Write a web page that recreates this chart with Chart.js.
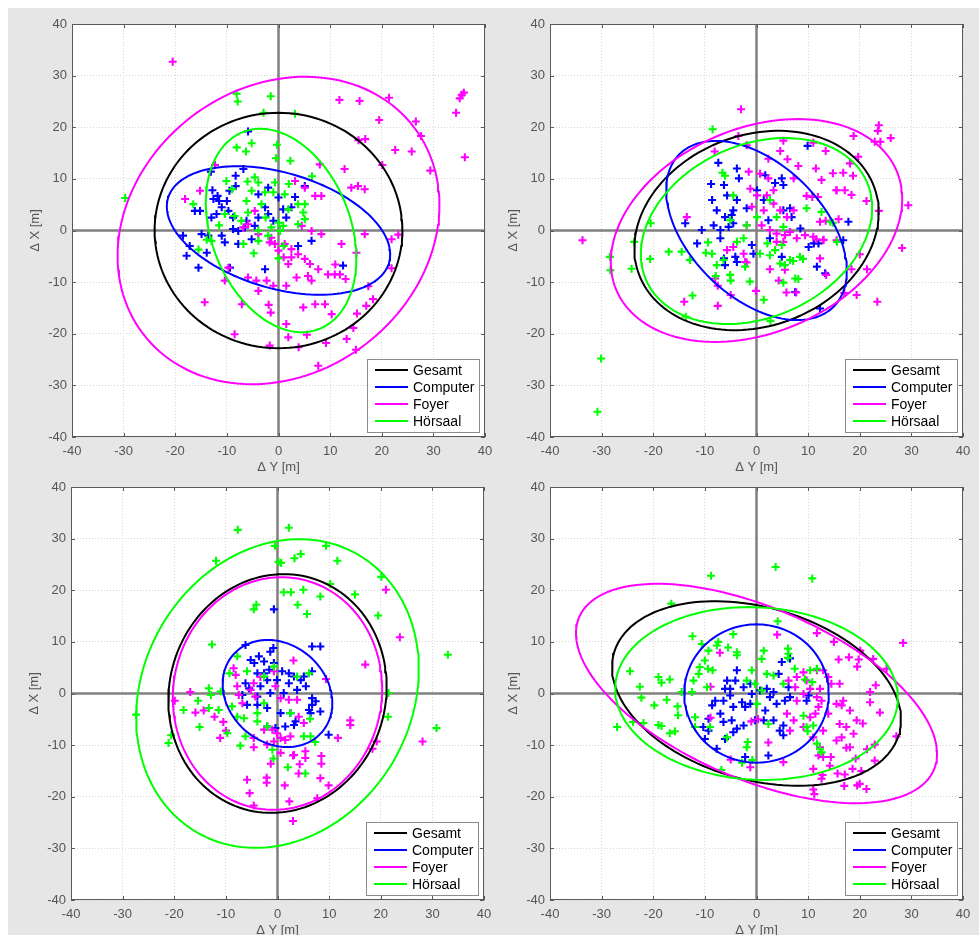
<!DOCTYPE html>
<html lang="de">
<head>
  <meta charset="UTF-8">
  <title>Positionsabweichungen</title>
  <script src="https://cdn.jsdelivr.net/npm/chart.js"></script>
  <style>
    body {
      margin: 0;
      background: #fff;
      font-family: 'Liberation Sans', Arial, sans-serif;
    }
    .figure {
      position: absolute;
      left: 8px;
      top: 8px;
      width: 971px;
      height: 927px;
      background: #e6e6e6;
    }
    canvas {
      position: absolute;
    }
  </style>
</head>
<body>

  <div class="figure"></div>
  <canvas id="tl" width="492" height="473" style="left:8px;top:10px"></canvas>
  <canvas id="tr" width="492" height="473" style="left:486px;top:10px"></canvas>
  <canvas id="bl" width="492" height="473" style="left:7px;top:473px"></canvas>
  <canvas id="br" width="492" height="473" style="left:486px;top:473px"></canvas>

  <script>
    const groups = ['Gesamt', 'Computer', 'Foyer', 'Hörsaal'];
    const axisMin = -40, axisMax = 40, axisStep = 10;
    const xTitle = 'Δ Y [m]';
    const yTitle = 'Δ X [m]';

    // ellipses: [centre ΔY, centre ΔX, semi axis a, semi axis b, angle deg] for Gesamt, Computer, Foyer, Hörsaal
    const tlEllipses = [[0, 0, 24, 22.8, 0], [0, 0, 22.3, 11.2, -16.3], [0, 0, 33, 27.75, 37.3], [0.5, 0, 20.45, 13.5, -69]];
    const trEllipses = [[0, 0, 24.3, 18.5, 20.5], [0, 0, 21, 12.9, -44.5], [0, 0, 29.5, 19.8, 23.1], [0, -0.1, 23.4, 16.7, 24.3]];
    const blEllipses = [[0, 0, 23.3, 20.95, 73.7], [0, 0, 11.4, 9.5, -41.2], [0, 0, 22.6, 20.2, 80], [0, 0, 31.1, 26, 59.85]];
    const brEllipses = [[0, 0, 28.7, 16.7, -15.85], [0, 0, 14, 13.4, 0], [0, 0, 37.4, 16.6, -23.3], [0, 0, 27.4, 16.7, -3]];

    // measured points [ΔY, ΔX]
    const tlComputer = [[-5.9,19.2],[-13.1,11.4],[-8.3,10.6],[-6.8,11.9],[-8.3,8.6],[-9.5,7.7],[-12.8,7.8],[-11.8,6.7],[-11.5,5.7],[-12.6,6.1],[-11.0,4.5],[-15.2,3.8],[-16.2,3.8],[-9.7,3.8],[-8.8,2.5],[-13.0,2.5],[-6.2,1.9],[-3.9,7.0],[-2.0,8.3],[0.0,6.4],[3.2,6.5],[5.1,8.6],[0.9,4.1],[1.5,2.5],[-2.0,3.2],[-3.9,2.5],[-4.6,0.9],[-6.5,0.6],[-8.8,0.3],[-11.0,-1.0],[-13.6,-1.0],[-14.9,-0.7],[-18.5,-1.0],[-17.2,-3.0],[-17.8,-4.9],[-15.5,-7.2],[-13.9,-4.3],[-10.4,-2.3],[-7.8,-2.6],[-5.2,-1.7],[-9.4,-7.2],[-2.6,-7.5],[3.8,-3.0],[6.4,-2.0],[12.5,-6.8],[-7.8,-0.1],[-12.0,3.2],[-10.0,5.7],[-1.0,1.9],[2.5,4.5],[-2.6,4.5]];
    const tlFoyer = [[-20.5,32.7],[11.8,25.3],[15.7,25.1],[21.4,25.7],[35.5,26.3],[35.9,26.7],[35.1,25.6],[34.4,22.8],[36.1,14.2],[19.5,21.4],[26.6,21.1],[27.6,18.3],[15.5,17.5],[16.8,17.7],[22.6,15.6],[25.8,15.3],[29.4,11.6],[20.1,12.7],[21.9,-1.7],[23.2,-0.8],[21.9,-7.3],[-1.7,-22.3],[3.9,-22.6],[5.5,-20.2],[9.2,-21.8],[7.7,-26.2],[13.2,-21.0],[15.0,-23.1],[15.2,-16.1],[17.0,-14.6],[14.5,-18.9],[18.3,-13.3],[17.4,-10.8],[11.0,-6.6],[-1.9,-14.4],[-1.5,-15.9],[13.0,-9.4],
      [-12.3,12.7],[-15.2,7.7],[-18.1,6.1],[-10.4,-9.7],[-14.3,-13.9],[-7.1,-14.3],[-3.9,-11.7],[-2.3,-9.7],[-4.3,-9.7],[-1.0,-10.7],[1.5,-10.7],[3.5,-9.1],[5.7,-8.8],[6.4,-9.7],[7.7,-7.5],[9.6,-8.5],[10.9,-8.5],[11.9,-8.5],[-5.9,1.2],[-4.6,3.8],[-1.4,-1.4],[-0.7,-2.6],[0.0,-3.9],[-1.7,-2.3],[1.2,-2.6],[2.5,-5.2],[3.8,-4.6],[5.1,-5.5],[6.1,-6.5],[1.9,-6.5],[1.0,-5.2],[2.5,-3.6],[4.5,0.9],[6.4,-0.1],[8.3,-0.7],[8.3,6.7],[7.1,6.7],[8.0,12.8],[12.8,11.9],[14.1,8.3],[15.4,8.6],[16.7,8.0],[12.2,-2.6],[15.1,-4.3],[16.7,-0.7],[10.3,-16.2],[9.0,-14.3],[7.1,-14.3],[4.8,-14.9],[1.5,-18.1],[-5.9,-9.1],[-9.7,-7.2],[-8.5,-20.1],[1.9,-20.7],[-3.9,-0.7],[-6.8,0.6],[3.2,9.6],[5.1,8.3]];
    const tlHoersaal = [[-29.7,6.3],[-8.1,26.5],[-7.9,25.0],[-1.5,26.0],[-2.9,22.8],[3.2,22.6],[-8.1,16.1],[-6.3,15.3],[-5.2,16.9],[-0.3,16.6],[-0.5,14.0],[2.3,13.5],[6.5,10.5],[-16.5,5.1],[-15.5,-3.7],[-13.9,-1.8],[-4.8,-4.4],[0.0,-5.4],[-10.1,9.6],[-4.6,10.3],[-3.9,9.3],[-5.2,7.7],[-2.6,7.4],[-1.0,7.4],[-0.7,9.3],[1.2,7.0],[3.8,5.1],[4.8,3.5],[5.1,2.2],[-1.4,0.6],[0.0,1.5],[-2.0,-1.0],[-6.8,-2.6],[-3.9,-2.0],[-6.2,5.7],[-3.3,5.1],[1.9,4.1],[0.9,0.9],[-8.5,2.8],[-7.2,1.9],[5.1,5.1],[-10.4,3.2],[-13.0,-2.0],[3.8,1.2],[0.3,-0.1],[-3.9,0.0],[-5.9,3.5],[-9.0,8.0],[-6.0,9.5],[2.0,9.0],[-11.5,1.0],[1.0,-3.0],[-2.5,2.5]];

    const trComputer = [[9.9,16.4],[-7.4,13.1],[-3.8,12.0],[-3.4,10.1],[-8.8,9.0],[-6.3,8.8],[1.7,10.7],[4.9,10.1],[3.6,9.2],[5.2,8.8],[-8.6,5.9],[-5.7,6.8],[-3.8,5.9],[-7.7,3.9],[-6.1,2.6],[-4.8,3.0],[-4.5,3.9],[-13.8,1.4],[-10.6,0.1],[-8.3,1.0],[-7.0,0.1],[-7.0,-1.5],[-5.4,0.7],[-4.5,1.4],[-11.5,-2.5],[-6.3,-5.4],[-6.1,-6.7],[-4.1,-5.1],[-3.8,-6.1],[-0.6,-4.5],[-0.9,-2.8],[2.3,2.0],[2.6,-1.5],[4.9,-5.1],[5.2,3.9],[6.5,4.3],[6.8,2.6],[8.5,0.4],[10.1,-3.2],[11.1,-2.5],[12.0,-2.5],[11.7,-7.0],[13.3,-8.3],[7.5,-11.9],[16.8,-1.9],[17.8,1.7],[12.3,-15.1],[1.4,5.9],[0.1,7.8],[-1.9,4.3]];
    const trFoyer = [[-33.7,-1.9],[-3.0,23.5],[23.7,20.4],[23.5,19.3],[26.0,17.9],[22.9,17.2],[24.0,17.2],[18.8,18.3],[19.7,14.3],[18.1,13.0],[14.8,11.1],[16.8,11.2],[18.7,10.6],[15.5,7.8],[17.1,7.8],[18.4,6.9],[21.3,5.7],[23.7,3.8],[29.4,4.9],[28.2,-3.4],[20.0,-4.6],[21.4,-7.5],[18.4,-7.5],[19.4,-12.5],[23.4,-13.8],[17.0,-12.1],[13.4,15.4],[11.0,17.0],[5.2,17.4],[4.6,15.4],[6.0,13.8],[2.3,13.9],[8.1,12.5],[11.5,12.0],[12.6,9.8],[9.7,6.7],[10.8,6.5],[11.9,6.5],[13.4,1.9],[15.9,2.2],[11.6,-1.7],[13.0,-1.8],[12.3,-5.4],[13.5,-8.6],[4.3,-9.7],[5.8,-12.0],[7.7,-12.0],[-0.1,-11.7],[-5.0,-12.5],[-7.5,-14.6],[-14.0,-13.8],[-7.5,-10.7],[-1.9,-6.2],[2.6,-7.5],[5.5,-7.6],[-8.1,15.3],[-13.5,2.6],[-3.5,18.3],[-1.9,16.5],
      [-1.5,11.4],[0.7,11.0],[2.3,10.1],[-1.2,8.1],[0.1,6.8],[2.0,6.8],[3.3,7.8],[-0.9,4.6],[1.4,3.9],[3.3,5.2],[4.6,3.9],[7.2,3.9],[5.9,2.6],[-1.9,1.0],[1.0,1.0],[2.6,0.1],[3.9,-0.6],[5.5,-0.9],[6.5,-0.3],[7.8,-1.5],[9.4,-0.9],[11.0,-1.2],[3.9,-2.2],[5.2,-2.2],[-2.5,-4.5],[-2.2,-6.1],[-4.5,-3.2],[-5.7,-3.8],[-8.0,-9.3],[12.3,1.7],[12.9,-1.9],[15.5,-1.9],[15.5,7.8],[7.2,10.1]];
    const trHoersaal = [[-30.1,-24.8],[-30.8,-35.1],[-28.4,-5.1],[-28.3,-7.7],[-24.2,-7.4],[-23.7,-2.2],[-8.5,19.6],[-20.5,1.4],[-20.6,-5.5],[-17.0,-4.1],[-14.5,-4.1],[-12.9,-5.7],[-12.4,-12.6],[-13.7,-16.7],[-1.3,-9.9],[1.4,-13.4],[2.7,-17.5],[-5.0,-9.7],[-7.9,-8.8],[-9.8,-4.3],[-9.4,-2.3],[5.2,-10.1],[7.1,-5.9],[8.1,-9.4],[9.0,-5.5],[12.6,3.6],[14.8,1.5],[15.6,-2.2],[-6.6,11.2],[-6.1,10.6],[-7.7,-6.7],[-5.1,-8.6],[-3.8,-2.2],[-2.5,-1.5],[-1.9,1.0],[0.7,-4.5],[2.6,-4.8],[3.6,-3.8],[4.9,-2.8],[5.5,-6.7],[7.5,-9.3],[8.4,-5.1],[6.5,-5.7],[4.6,-6.4],[9.7,4.3],[14.3,1.7],[-2.2,-7.0],[-6.4,-5.7],[-8.6,-4.5],[-4.5,6.8],[2.6,5.9],[3.9,2.6],[5.2,0.7],[-5.1,2.0],[0.1,2.6],[2.1,-2.5]];

    const blComputer = [[-0.7,16.3],[-6.2,9.4],[-1.4,8.1],[-0.8,8.8],[6.7,9.1],[8.3,9.1],[-5.2,6.5],[-4.5,5.9],[-3.6,7.2],[-2.6,6.2],[-1.6,4.6],[-0.7,5.9],[0.9,4.3],[2.2,3.9],[-2.6,3.9],[-3.9,3.9],[-6.2,2.0],[-5.5,1.0],[-3.3,1.4],[-2.0,2.6],[-0.1,2.6],[2.2,2.0],[3.2,3.3],[4.5,2.6],[5.1,3.3],[6.7,4.3],[5.5,1.4],[3.8,0.7],[1.2,0.1],[-1.4,0.1],[-3.9,-0.6],[-6.8,-0.3],[-5.9,-2.2],[-3.9,-2.2],[-2.0,-2.8],[0.6,-3.8],[2.5,-3.8],[3.5,-5.4],[6.1,-3.2],[6.7,-0.9],[7.4,-1.5],[6.7,-2.2],[6.4,-3.8],[8.3,-3.5],[-2.0,-6.4],[-0.4,-6.7],[9.9,-8.0],[1.5,-6.4],[3.2,-6.1]];
    const blFoyer = [[21.0,20.1],[23.7,10.9],[17.0,5.6],[9.4,2.8],[28.1,-9.3],[19.2,-9.3],[14.1,-5.2],[14.1,-6.1],[11.7,-8.6],[18.4,-10.7],[3.0,-24.7],[-4.6,-21.7],[-5.4,-19.3],[-5.9,-16.7],[-2.1,-16.3],[-2.1,-17.3],[1.4,-17.8],[2.3,-20.9],[7.7,-20.3],[8.3,-16.4],[9.9,-17.8],[8.5,-12.1],[8.5,-13.6],[5.4,-12.5],[5.4,-11.2],[4.1,-15.5],[4.3,-13.7],[3.0,-12.0],[-1.3,-13.6],[-4.6,-10.4],[-11.1,-8.6],[-16.9,0.3],[-19.9,-1.4],[-15.9,-3.7],[-14.3,-3.3],[-12.2,-4.5],[-10.5,-5.5],[-10.0,-7.2],[3.1,6.4],
      [-8.5,4.9],[-8.1,3.6],[-7.5,-0.3],[-6.8,-1.9],[-5.2,0.7],[-4.3,-0.6],[-4.6,2.0],[-3.3,3.2],[-0.7,4.3],[-0.4,1.4],[0.6,-0.9],[2.2,-1.2],[3.8,-1.2],[4.1,-4.5],[5.1,-5.7],[-1.0,-7.0],[-0.1,-7.7],[0.6,-8.6],[1.5,-9.0],[2.5,-8.3],[-0.7,-9.3],[-2.0,-9.9],[0.6,-11.5],[3.2,-11.9],[-7.8,1.4],[-4.6,-8.6],[-2.6,-7.0]];
    const blHoersaal = [[-7.7,31.7],[2.2,32.1],[-0.5,28.6],[-11.9,25.7],[0.2,25.5],[0.7,25.3],[3.3,26.2],[4.5,27.0],[9.4,28.6],[11.6,25.7],[20.1,22.6],[10.2,21.2],[1.2,19.6],[2.6,19.6],[5.0,20.1],[15.0,19.2],[8.3,18.8],[-4.1,17.2],[-4.6,16.3],[3.9,17.2],[5.7,15.4],[19.5,15.1],[-12.7,9.5],[33.0,7.5],[-27.4,-4.1],[-21.1,-9.6],[-20.6,-8.1],[-18.2,-3.2],[-15.1,-6.5],[-15.4,-1.4],[21.4,-4.5],[30.8,-6.7],[21.5,0.1],[2.0,-14.3],[5.4,-15.5],[-7.2,-10.1],[-0.8,-12.6],[7.3,-9.4],[6.3,-4.9],
      [-7.8,7.2],[-5.9,4.3],[-9.3,3.9],[-13.3,1.0],[-12.9,-0.3],[-11.0,0.4],[-13.3,-2.8],[-11.4,-3.2],[-8.8,-2.5],[-7.8,-4.5],[-6.5,-4.8],[-3.9,-5.4],[-3.9,-3.8],[-6.2,-8.3],[-9.7,-7.7],[-1.0,-10.9],[6.4,-8.3],[5.1,-8.3],[-2.6,3.3],[-0.7,5.2],[-2.0,-6.4],[-2.6,-1.9],[2.5,-3.8],[3.8,3.3],[6.1,3.9]];

    const brComputer = [[4.9,6.1],[4.3,3.8],[6.2,1.2],[6.5,-0.7],[5.5,-1.4],[3.9,-2.0],[2.6,-0.7],[2.0,0.9],[3.3,0.3],[1.7,-3.3],[3.3,-5.2],[4.5,-7.2],[5.2,-8.1],[-0.3,-5.2],[-2.5,-6.2],[-3.8,-6.8],[-4.8,-5.2],[-4.5,-2.6],[-2.8,-1.7],[-1.2,-2.0],[-0.9,-0.1],[-2.5,1.2],[-4.1,2.5],[-5.7,2.5],[-6.1,0.9],[-5.1,-0.4],[-6.4,-1.4],[-8.0,-1.4],[-8.6,-2.3],[-7.0,-3.9],[-6.4,-5.5],[-9.3,-4.9],[-10.3,-6.5],[-9.3,-7.2],[-10.0,-8.8],[-7.7,-10.7],[-6.1,-8.8],[-4.5,-7.5],[-2.2,-12.3],[2.3,-12.0],[5.2,-6.2],[-1.2,1.9],[0.7,0.6],[-3.8,4.5],[-5.1,0.9],[-2.2,-2.6],[1.4,-5.2],[9.7,-1.4],[10.1,-0.4],[6.5,6.8]];
    const brFoyer = [[28.4,9.8],[4.0,11.4],[11.7,11.7],[15.0,10.0],[20.1,8.3],[22.6,6.7],[25.2,4.8],[17.9,7.0],[15.9,6.6],[19.5,5.2],[23.1,1.6],[23.9,-3.7],[27.1,-8.3],[22.9,-9.9],[22.9,-13.0],[20.3,-15.0],[20.0,-17.5],[21.3,-18.5],[19.5,-17.8],[17.0,-17.9],[18.6,-14.6],[17.1,-15.7],[15.7,-15.5],[12.6,-16.5],[12.8,-15.8],[11.0,-18.6],[11.2,-19.5],[11.0,-14.6],[12.9,-12.3],[14.4,-12.3],[19.2,-12.6],[21.4,-10.8],[17.4,-10.5],[-7.1,7.9],[-8.9,1.3],[-8.9,-4.7],[-5.0,-12.8],[-1.2,-14.3],[5.2,-13.3],[2.3,-9.5],[-1.0,-5.4],[0.3,-5.0],
      [9.1,4.1],[7.8,3.2],[9.7,2.5],[11.7,4.5],[12.9,4.5],[13.9,3.2],[14.5,1.9],[16.1,1.9],[12.3,0.9],[10.4,0.9],[6.2,2.5],[7.5,1.2],[7.8,-1.4],[9.1,-0.1],[11.7,-0.7],[12.6,-1.4],[12.0,-2.6],[10.4,-4.6],[11.4,-3.9],[13.9,-3.9],[15.5,-2.0],[16.8,-1.4],[18.1,-3.3],[16.1,-5.9],[17.4,-6.5],[19.4,-5.2],[20.6,-5.8],[18.8,-7.8],[16.5,-8.5],[15.5,-9.1],[12.9,-7.2],[11.0,-8.5],[9.1,-6.5],[7.2,-5.2],[5.9,-3.9],[6.5,-7.2],[12.3,-10.4],[12.0,-12.0],[14.2,-14.0],[18.1,-10.4],[22.0,0.3],[22.0,-1.7],[16.5,-2.3],[19.8,6.6]];
    const brHoersaal = [[-8.8,22.8],[3.7,24.5],[10.8,22.3],[-16.5,17.4],[4.1,14.0],[-12.4,11.1],[-24.5,4.3],[-27.0,-6.5],[-22.6,1.3],[-22.3,-0.8],[-19.8,-2.3],[-19.0,3.2],[-18.4,2.1],[-16.8,2.7],[-17.4,-1.2],[-15.3,-2.5],[-15.2,-4.2],[-16.8,-7.7],[-15.8,-7.3],[-19.0,-6.1],[-18.4,-6.3],[-21.9,-5.7],[-23.9,-5.5],[-6.8,-14.8],[-2.8,-13.4],[-0.8,-12.9],[-1.7,-9.4],[1.4,8.3],[6.1,8.7],[6.1,6.9],[7.4,4.8],[9.4,2.7],[12.3,-10.8],[12.6,-11.4],[9.9,-7.3],[-10.6,9.6],[-7.7,9.3],[-5.5,8.9],[-3.8,8.0],[-3.8,7.4],[-4.5,11.5],[-10.0,6.4],[-11.0,5.1],[-9.4,4.8],[-8.5,4.5],[-11.2,3.8],[-12.2,2.5],[-9.6,1.2],[-12.5,0.3],[-14.5,0.3],[-11.9,-6.5],[-11.9,-4.6],[-9.0,-6.5],[-5.7,-8.5],[-1.9,-10.4],[1.0,6.7],[6.2,7.7],[-0.9,4.5],[2.0,3.8],[3.3,3.5],[-1.9,2.5],[-0.3,1.9],[1.0,0.6],[0.1,-2.0],[2.3,-5.9],[5.2,1.9],[10.4,4.5],[10.8,2.2],[11.7,4.8],[9.7,-6.5],[11.0,-6.2],[9.1,-4.3],[11.7,-9.7],[-7.4,10.0],[-9.3,8.3]];

    const lineColors = ['#000000', '#0000ff', '#ff00ff', '#00ff00'];
    const textColor = '#555555';

    function ellipsePoints(e) {
      const [cx, cy, a, b, deg] = e;
      const r = deg * Math.PI / 180;
      const pts = [];
      for (let i = 0; i <= 144; i++) {
        const t = i / 144 * 2 * Math.PI;
        pts.push({
          x: cx + a * Math.cos(r) * Math.cos(t) - b * Math.sin(r) * Math.sin(t),
          y: cy + a * Math.sin(r) * Math.cos(t) + b * Math.cos(r) * Math.sin(t)
        });
      }
      return pts;
    }

    // white plot area, zero lines, box with inner ticks, and the legend box
    const framePlugin = {
      id: 'frame',
      beforeDraw(chart) {
        const {ctx, chartArea: a} = chart;
        ctx.save();
        ctx.fillStyle = '#ffffff';
        ctx.fillRect(a.left, a.top, a.right - a.left, a.bottom - a.top);
        ctx.restore();
      },
      beforeDatasetsDraw(chart) {
        const {ctx, chartArea: a, scales: {x, y}} = chart;
        ctx.save();
        ctx.strokeStyle = '#808080';
        ctx.lineWidth = 2.5;
        const x0 = x.getPixelForValue(0), y0 = y.getPixelForValue(0);
        ctx.beginPath();
        ctx.moveTo(x0, a.top); ctx.lineTo(x0, a.bottom);
        ctx.moveTo(a.left, y0); ctx.lineTo(a.right, y0);
        ctx.stroke();
        ctx.restore();
      },
      afterDatasetsDraw(chart) {
        const {ctx, chartArea: a, scales: {x, y}} = chart;
        ctx.save();
        ctx.strokeStyle = '#5a5a5a';
        ctx.lineWidth = 1;
        ctx.strokeRect(a.left + 0.5, a.top + 0.5, a.right - a.left - 1, a.bottom - a.top - 1);
        ctx.beginPath();
        x.ticks.forEach(t => {
          const p = Math.round(x.getPixelForValue(t.value)) + 0.5;
          ctx.moveTo(p, a.bottom); ctx.lineTo(p, a.bottom - 4);
          ctx.moveTo(p, a.top); ctx.lineTo(p, a.top + 4);
        });
        y.ticks.forEach(t => {
          const p = Math.round(y.getPixelForValue(t.value)) + 0.5;
          ctx.moveTo(a.left, p); ctx.lineTo(a.left + 4, p);
          ctx.moveTo(a.right, p); ctx.lineTo(a.right - 4, p);
        });
        ctx.stroke();

        // legend
        const w = 112, h = 73;
        const bx = a.right - 6 - w, by = a.bottom - 5 - h;
        ctx.fillStyle = '#ffffff';
        ctx.fillRect(bx, by, w, h);
        ctx.strokeStyle = '#8c8c8c';
        ctx.strokeRect(bx + 0.5, by + 0.5, w, h);
        ctx.font = '14px "Liberation Sans", Arial, sans-serif';
        ctx.textBaseline = 'middle';
        ctx.fillStyle = '#000';
        groups.forEach((g, i) => {
          const ry = by + 11 + i * 17;
          ctx.strokeStyle = lineColors[i];
          ctx.lineWidth = 2;
          ctx.beginPath();
          ctx.moveTo(bx + 8, ry); ctx.lineTo(bx + 41, ry);
          ctx.stroke();
          ctx.fillText(g, bx + 46, ry + 1);
        });
        ctx.restore();
      }
    };

    function makePanel(id, pointSets, ellipses) {
      const datasets = [];
      // point groups: Computer, Foyer, Hörsaal
      pointSets.forEach((pts, i) => {
        datasets.push({
          label: groups[i + 1],
          data: pts.map(p => ({x: p[0], y: p[1]})),
          pointStyle: 'cross',
          pointRadius: 4,
          pointBorderWidth: 2.1,
          borderColor: lineColors[i + 1],
          backgroundColor: lineColors[i + 1],
          showLine: false,
          order: 8 - i
        });
      });
      ellipses.forEach((e, i) => {
        datasets.push({
          label: groups[i],
          data: ellipsePoints(e),
          showLine: true,
          pointRadius: 0,
          borderColor: lineColors[i],
          borderWidth: 2,
          fill: false,
          order: 4 - i
        });
      });

      const tickFont = {family: "'Liberation Sans', Arial, sans-serif", size: 13};
      new Chart(document.getElementById(id), {
        type: 'scatter',
        data: {datasets},
        options: {
          responsive: false,
          animation: false,
          layout: {padding: {top: 14, right: 15, left: 0, bottom: 0}},
          plugins: {legend: {display: false}, tooltip: {enabled: false}},
          scales: {
            x: {
              type: 'linear',
              min: axisMin, max: axisMax,
              ticks: {stepSize: axisStep, color: textColor, font: tickFont, padding: 7, maxRotation: 0},
              grid: {color: '#d6d6d6', lineWidth: 1, drawTicks: false},
              border: {display: false, dash: [1, 2]},
              title: {display: true, text: xTitle, color: textColor, font: tickFont, padding: {top: 0, bottom: 8}},
              afterFit: s => { s.height = 46; }
            },
            y: {
              type: 'linear',
              min: axisMin, max: axisMax,
              ticks: {stepSize: axisStep, color: textColor, font: tickFont, padding: 5},
              grid: {color: '#d6d6d6', lineWidth: 1, drawTicks: false},
              border: {display: false, dash: [1, 2]},
              title: {display: true, text: yTitle, color: textColor, font: tickFont, padding: {top: 20, bottom: 0}},
              afterFit: s => { s.width = 64; }
            }
          }
        },
        plugins: [framePlugin]
      });
    }

    makePanel('tl', [tlComputer, tlFoyer, tlHoersaal], tlEllipses);
    makePanel('tr', [trComputer, trFoyer, trHoersaal], trEllipses);
    makePanel('bl', [blComputer, blFoyer, blHoersaal], blEllipses);
    makePanel('br', [brComputer, brFoyer, brHoersaal], brEllipses);
  </script>

</body>
</html>
